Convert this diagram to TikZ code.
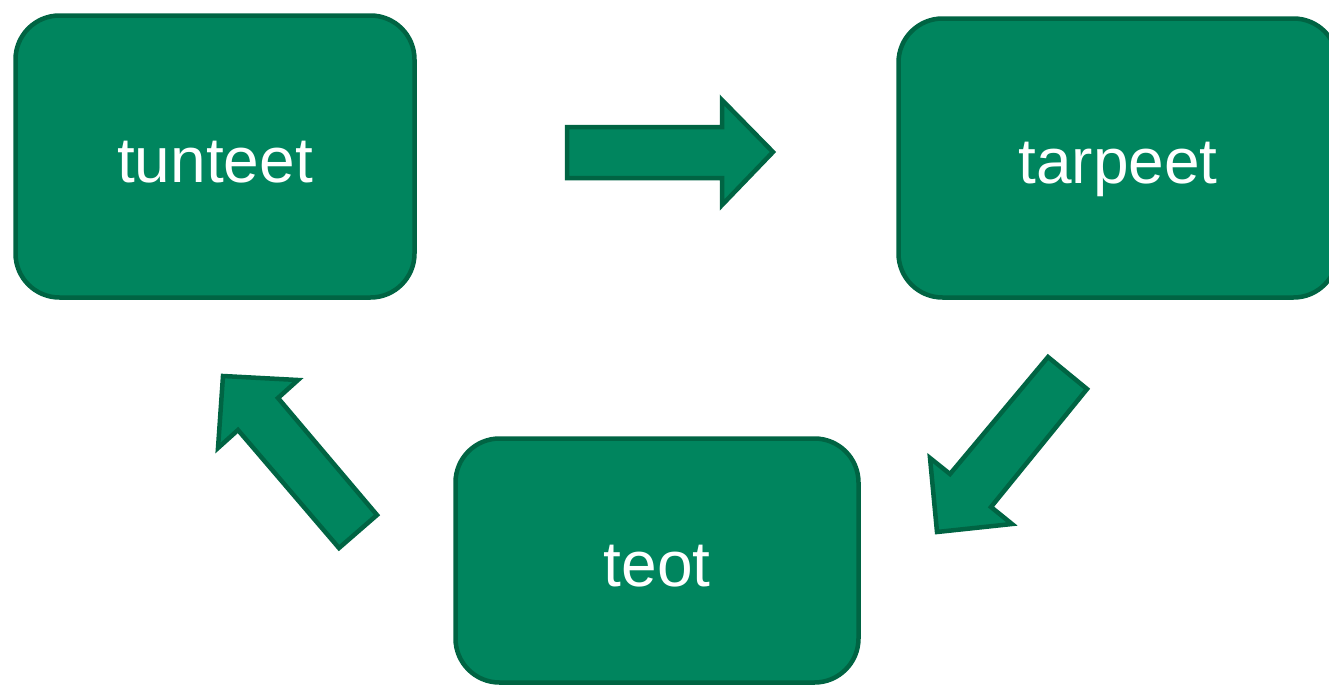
\documentclass[tikz,border=0pt]{standalone}
\usepackage{fontspec}
\setmainfont{Liberation Sans}
\definecolor{boxfill}{RGB}{0,133,94}
\definecolor{boxline}{RGB}{0,100,67}
\begin{document}
\begin{tikzpicture}[x=1pt,y=-1pt,
  box/.style={draw=boxline, fill=boxfill, line width=4.5pt, rounded corners=44pt,
    inner sep=0pt, text=white, font=\fontsize{64}{70}\selectfont,
    text height=51pt, text depth=0pt},
  blockarrow/.style={draw=boxline, fill=boxfill, line width=4.5pt, line join=miter}]
\useasboundingbox (0,0) rectangle (1329,686);
\node[box, minimum width=399pt, minimum height=282pt] (tunteet) at (215,156.5) {tunteet};
\node[box, minimum width=439pt, minimum height=279pt] (tarpeet) at (1118,158) {tarpeet};
\node[box, minimum width=403pt, minimum height=244pt] (teot) at (657,560.5) {teot};
% right arrow
\draw[blockarrow] (567,127) -- (722,127) -- (722,100) -- (773,152) -- (722,205) -- (722,178) -- (567,178) -- cycle;
% down-left arrow
\draw[blockarrow] (1048,357) -- (1087,389) -- (991,507) -- (1012,524) -- (937,532) -- (930,458) -- (950,474) -- cycle;
% up-left arrow
\draw[blockarrow] (377,515) -- (339,548) -- (238,430) -- (218,448) -- (223,376) -- (298,380) -- (278,398) -- cycle;
\end{tikzpicture}
\end{document}
